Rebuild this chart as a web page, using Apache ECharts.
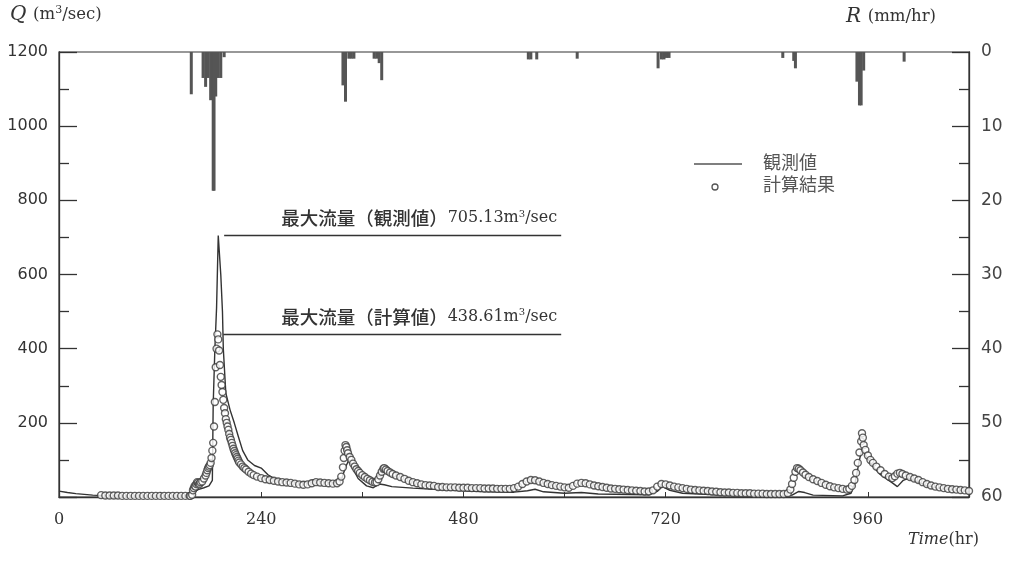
<!DOCTYPE html>
<html>
<head>
<meta charset="utf-8">
<script src="https://cdn.jsdelivr.net/npm/echarts@6/dist/echarts.min.js"></script>
<style>
  html, body { margin: 0; padding: 0; background: #fff; }
  #chart { width: 1012px; height: 574px; }
</style>
</head>
<body>
<div id="chart"></div>
<script>
// 観測流量 [時間(hr), Q(m3/sec)]
const obsData = [[0,16],[10,12],[20,9],[30,7],[40,5],[52,4],[80,3],[120,3],[150,3],[157,5],[160,12],[165,20],[172,25],[178,30],[182,45],
  [183,250],[185,400],[187,510],[189,705.13],[192,600],[194,500],[195,400],[198,280],[203,235],[208,200],[213,162],[218,125],[224,100],
  [232,85],[240,78],[248,60],[255,50],[265,44],[280,40],[295,40],[302,46],[315,40],[330,38],[335,45],[340,80],[344,100],[348,80],[355,50],[365,30],
  [373,25],[380,35],[386,33],[395,28],[420,24],[450,20],[500,15],[540,13],[556,17],[565,21],[575,14],[600,10],[620,12],[640,8],
  [700,6],[710,15],[716,28],[725,18],[740,10],[780,6],[830,3],[860,2],[870,5],[878,15],[885,12],[895,5],[930,3],[940,10],[945,40],
  [950,100],[953,130],[958,110],[965,85],[975,60],[989,38],[995,28],[1002,45],[1008,50],[1015,45],[1030,30],[1050,22],[1080,15]]

// 計算流量 [時間(hr), Q(m3/sec)]
const calcData = [[50,5],[55,4],[60,4],[65,4],[70,4],[75,3],[80,3],[85,3],[90,3],[95,3],[100,3],[105,3],[110,3],[115,3],[120,3],
  [125,3],[130,3],[135,3],[140,3],[145,3],[150,3],[155,3],
  [156,3],[158,6],[159,18],[160,24],[161,30],[162,28],[163,35],[164,40],[165,38],[166,34],[167,36],[168,40],[170,42],[172,50],
  [174,58],[175,65],[176,72],[177,78],[178,82],[179,86],[180,92],[181,105],[182,125],[183,146],[184,190],[185,256],[186,350],
  [187,400],[188,438.61],[189,425],[190,395],[191,356],[192,324],[193,302],[194,283],[195,262],[196,240],[197,226],[198,210],
  [199,200],[200,190],[201,181],[202,170],[203,160],[204,154],[205,146],[206,138],[207,130],[208,124],[209,118],[210,113],
  [211,108],[212,103],[213,98],[214,93],[216,88],[218,82],[220,78],[222,74],[225,68],[228,63],[231,59],[235,55],[240,51],
  [245,48],[250,46],[255,44],[260,42],[265,40],[270,39],[275,38],[280,36],[285,34],[290,33],[295,34],[300,37],[305,40],
  [310,39],[315,38],[320,37],[325,36],[330,37],[333,42],[335,55],[337,80],[338,105],[339,125],[340,140],[341,135],[342,126],
  [343,118],[345,108],[347,100],[349,90],[351,82],[353,75],[355,70],[357,65],[360,59],[363,54],[366,49],[369,45],[372,41],
  [375,39],[377,40],[379,48],[381,58],[383,68],[385,76],[386,78],[388,74],[390,70],[393,66],[396,62],[400,58],[405,54],
  [410,49],[415,44],[420,40],[425,37],[430,34],[435,32],[440,31],[445,30],
  [450,27],[455,27],[460,26],[465,26],[470,26],[475,25],[480,25],[485,25],[490,24],[495,24],[500,24],[505,23],[510,23],
  [515,23],[520,22],[525,22],[530,22],[535,22],[540,24],[545,28],[550,35],[555,42],[560,46],[565,45],[570,42],[575,38],
  [580,35],[585,32],[590,30],[595,28],[600,26],[605,25],[610,30],[615,36],[620,38],[625,37],[630,34],[635,31],[640,29],
  [645,27],[650,25],[655,23],[660,22],[665,21],[670,20],[675,19],[680,18],[685,17],[690,16],[695,15],[700,15],[705,18],
  [710,28],[715,35],[720,34],[725,31],[730,28],[735,26],[740,24],[745,22],[750,20],[755,19],[760,18],[765,17],[770,16],
  [775,15],[780,14],[785,13],[790,12],[795,12],[800,11],[805,11],[810,10],[815,10],[820,10],[825,9],[830,9],[835,9],
  [840,8],[845,8],[850,8],[855,8],[860,8],
  [865,10],[868,20],[870,35],[872,52],[874,68],[876,78],[878,76],[880,72],[883,66],[886,60],[890,54],[895,48],[900,43],
  [905,38],[910,33],[915,29],[920,26],[925,24],[930,22],[935,20],[938,22],[941,30],[944,46],[946,65],[948,92],[950,120],
  [952,150],[953,172],[954,160],[955,140],[957,127],[960,112],[963,100],[966,92],[970,82],[975,72],[980,62],[985,55],
  [989,51],[992,56],[995,63],[998,65],[1001,62],[1005,58],[1010,54],[1015,50],[1020,46],[1025,40],[1030,35],[1035,31],
  [1040,28],[1045,26],[1050,24],[1055,22],[1060,21],[1065,20],[1070,19],[1075,18],[1080,16]]

// 降雨量 R (mm/hr)
const rainHours = [157, 171, 174, 177, 180, 183, 184, 186, 189, 192, 196,
  337, 340, 344, 347, 350, 374, 377, 380, 383,
  557, 560, 567, 615, 711, 715, 718, 721, 724,
  859, 872, 874, 947, 950, 952, 955, 1003]
const rainValues = [5.7, 3.5, 4.7, 3.5, 6.5, 18.7, 18.7, 6.0, 3.5, 3.5, 0.7,
  4.5, 6.7, 0.9, 0.9, 0.9, 0.9, 0.9, 1.5, 3.8,
  1.0, 1.0, 1.0, 0.9, 2.2, 1.0, 1.0, 0.8, 0.8,
  0.8, 1.2, 2.2, 4.0, 7.2, 7.2, 2.5, 1.3]

const xTicks = [0, 240, 480, 720, 960]
const peakObs = 705.13
const peakCalc = 438.61
const peakObsHour = 189
const peakCalcHour = 188
const noteEndHour = 596

const ink = '#333'
const serif = 'DejaVu Serif'
const jp = 'Noto Sans CJK JP'

let rainData = []
for (let i = 0; i < rainHours.length; i++) {
  rainData.push([rainHours[i], rainValues[i]])
}

function noteLabel (kind, value) {
  return {
    show: true,
    position: 'insideEndTop',
    distance: [4, 8],
    color: ink,
    formatter: '{j|最大流量（' + kind + '）}{n|' + value.toFixed(2) + 'm}{s|3}{n|/sec}',
    rich: {
      j: { fontFamily: jp, fontSize: 18.5, fontWeight: 500, color: ink },
      n: { fontFamily: serif, fontSize: 16, color: ink },
      s: { fontFamily: serif, fontSize: 10, color: ink, verticalAlign: 'top', lineHeight: 12 }
    }
  }
}

let chart = echarts.init(document.getElementById('chart'))
let option = {
  backgroundColor: '#fff',
  animation: false,
  grid: {
    left: 59, right: 43, top: 52, bottom: 77,
    show: true, borderColor: ink, borderWidth: 1.2, backgroundColor: 'transparent'
  },
  xAxis: {
    type: 'value',
    min: 0,
    max: 1080,
    interval: 120,
    axisLine: { show: true, lineStyle: { color: ink, width: 1.3 } },
    axisTick: { show: true, inside: true, length: 5, lineStyle: { color: ink } },
    splitLine: { show: false },
    axisLabel: {
      margin: 15,
      color: ink,
      fontFamily: serif,
      fontSize: 16,
      showMaxLabel: false,
      formatter: function (v) { return xTicks.indexOf(v) >= 0 ? String(v) : '' }
    }
  },
  yAxis: [
    {
      type: 'value',
      min: 0,
      max: 1200,
      interval: 200,
      position: 'left',
      axisLine: { show: true, lineStyle: { color: ink, width: 1.3 } },
      axisTick: { show: true, inside: true, length: 18, lineStyle: { color: ink, width: 1.3 } },
      minorTick: { show: true, splitNumber: 2, length: 10, lineStyle: { color: ink, width: 1.3 } },
      splitLine: { show: false },
      axisLabel: {
        margin: 11,
        color: ink,
        fontFamily: 'DejaVu Sans',
        fontSize: 16,
        formatter: function (v) { return v === 0 ? '' : String(v) }
      }
    },
    {
      type: 'value',
      min: 0,
      max: 60,
      interval: 10,
      inverse: true,
      position: 'right',
      axisLine: { show: true, lineStyle: { color: ink, width: 1.3 } },
      axisTick: { show: true, inside: true, length: 17, lineStyle: { color: ink, width: 1.3 } },
      minorTick: { show: true, splitNumber: 2, length: 10, lineStyle: { color: ink, width: 1.3 } },
      splitLine: { show: false },
      axisLabel: { margin: 12, color: '#444', fontFamily: 'DejaVu Sans', fontSize: 17 }
    }
  ],
  series: [
    {
      name: '降雨量',
      type: 'bar',
      yAxisIndex: 1,
      barWidth: 3,
      barGap: '-100%',
      itemStyle: { color: '#555' },
      data: rainData
    },
    {
      name: '観測値',
      type: 'line',
      showSymbol: false,
      lineStyle: { color: ink, width: 1.4 },
      data: obsData,
      z: 3,
      markLine: {
        silent: true,
        symbol: ['none', 'none'],
        lineStyle: { color: ink, width: 1.4, type: 'solid' },
        data: [
          [
            { coord: [peakObsHour + 7, peakObs], label: noteLabel('観測値', peakObs) },
            { coord: [noteEndHour, peakObs], label: noteLabel('観測値', peakObs) }
          ],
          [
            { coord: [peakCalcHour + 7, peakCalc], label: noteLabel('計算値', peakCalc) },
            { coord: [noteEndHour, peakCalc], label: noteLabel('計算値', peakCalc) }
          ]
        ]
      }
    },
    {
      name: '計算結果',
      type: 'scatter',
      symbol: 'circle',
      symbolSize: 7,
      itemStyle: { color: '#fff', borderColor: '#3a3a3a', borderWidth: 1.4 },
      data: calcData,
      z: 4
    }
  ],
  graphic: [
    {
      type: 'text', left: 10, top: 5,
      style: {
        text: '{q|Q}  {u|(m}{s|3}{u|/sec)}',
        rich: {
          q: { fontFamily: serif, fontStyle: 'italic', fontSize: 20, fill: ink },
          u: { fontFamily: serif, fontSize: 16.5, fill: ink },
          s: { fontFamily: serif, fontSize: 11, fill: ink, verticalAlign: 'top', lineHeight: 12 }
        }
      }
    },
    {
      type: 'text', left: 846, top: 7,
      style: {
        text: '{r|R}  {u|(mm/hr)}',
        rich: {
          r: { fontFamily: serif, fontStyle: 'italic', fontSize: 20, fill: ink },
          u: { fontFamily: serif, fontSize: 16.5, fill: ink }
        }
      }
    },
    {
      type: 'text', left: 908, top: 532,
      style: {
        text: '{t|Time}{u|(hr)}',
        rich: {
          t: { fontFamily: serif, fontStyle: 'italic', fontSize: 16, fill: ink },
          u: { fontFamily: serif, fontSize: 16, fill: ink }
        }
      }
    },
    // 凡例
    { type: 'line', shape: { x1: 694, y1: 164, x2: 742, y2: 164 }, style: { stroke: '#555', lineWidth: 1.6 } },
    { type: 'circle', shape: { cx: 715, cy: 187, r: 3 }, style: { fill: '#fff', stroke: '#555', lineWidth: 1.3 } },
    { type: 'text', left: 763, top: 153, style: { text: '観測値', font: '18px "Noto Sans CJK JP"', fill: '#555' } },
    { type: 'text', left: 763, top: 175, style: { text: '計算結果', font: '18px "Noto Sans CJK JP"', fill: '#555' } }
  ]
}
chart.setOption(option)
</script>
</body>
</html>
